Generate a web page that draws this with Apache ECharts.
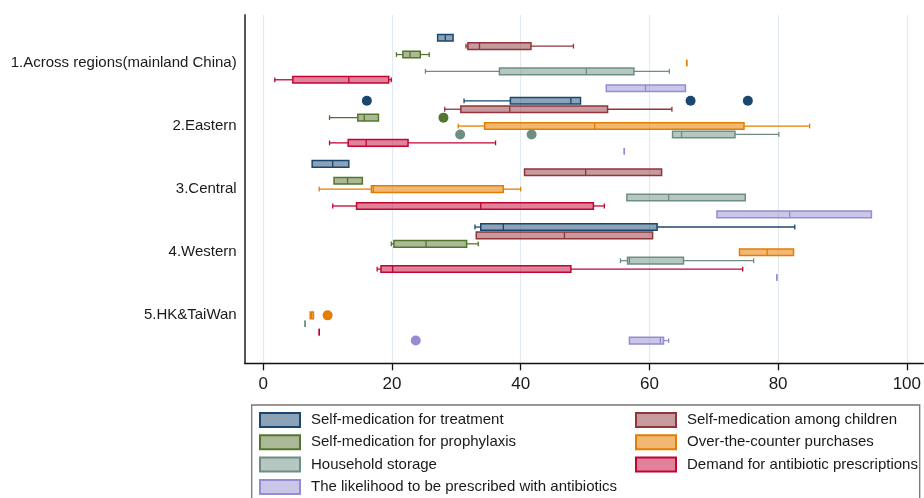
<!DOCTYPE html>
<html>
<head>
<meta charset="utf-8">
<script src="https://cdn.jsdelivr.net/npm/echarts@6/dist/echarts.min.js"></script>
<style>
html, body { margin: 0; padding: 0; background: #fff; }
#main { width: 924px; height: 498px; }
</style>
</head>
<body>
<div id="main"></div>
<script>
// categories (top to bottom)
const regions = ['1.Across regions(mainland China)', '2.Eastern', '3.Central', '4.Western', '5.HK&TaiWan'];
const seriesNames = [
    'Self-medication for treatment',
    'Self-medication among children',
    'Self-medication for prophylaxis',
    'Over-the-counter purchases',
    'Household storage',
    'Demand for antibiotic prescriptions',
    'The likelihood to be prescribed with antibiotics'
];
const xTicks = [0, 20, 40, 60, 80, 100];

// [min, q1, median, q3, max] for each region, null = no box
const treatment  = [[27.1, 27.1, 28.3, 29.5, 29.5], [31.2, 38.4, 47.8, 49.3, 49.3], [7.6, 7.6, 10.8, 13.3, 13.3], [32.9, 33.8, 37.3, 61.2, 82.6], null];
const children   = [[31.5, 31.8, 33.6, 41.6, 48.2], [28.2, 30.7, 38.3, 53.5, 63.5], [40.6, 40.6, 50.1, 61.9, 61.9], [33.1, 33.1, 46.8, 60.5, 60.5], null];
const prophylaxis = [[20.7, 21.7, 22.8, 24.4, 25.8], [10.3, 14.7, 15.7, 17.9, 17.9], [11.0, 11.0, 13.1, 15.4, 15.4], [19.9, 20.3, 25.3, 31.6, 33.4], null];
const otc        = [[65.8, 65.8, 65.8, 65.8, 65.8], [30.3, 34.4, 51.5, 74.7, 84.9], [8.7, 16.8, 17.1, 37.3, 40.0], [74.0, 74.0, 78.3, 82.4, 82.4], [7.3, 7.3, 7.5, 7.8, 7.8]];
const household  = [[25.2, 36.7, 50.2, 57.6, 63.1], [63.6, 63.6, 65.0, 73.3, 80.1], [56.5, 56.5, 63.0, 74.9, 74.9], [55.5, 56.6, 56.9, 65.3, 76.2], [6.5, 6.5, 6.5, 6.5, 6.5]];
const demand     = [[1.8, 4.6, 13.3, 19.5, 19.9], [10.3, 13.2, 16.0, 22.5, 36.1], [10.8, 14.5, 33.8, 51.3, 53.0], [17.7, 18.3, 20.1, 47.8, 74.5], [8.7, 8.7, 8.7, 8.7, 8.7]];
const likelihood = [[53.3, 53.3, 59.4, 65.6, 65.6], [56.1, 56.1, 56.1, 56.1, 56.1], [70.5, 70.5, 81.8, 94.5, 94.5], [79.8, 79.8, 79.8, 79.8, 79.8], [56.9, 56.9, 61.7, 62.2, 63.0]];

// outside values: [region index, value]
const treatmentOut   = [[1, 16.1], [1, 66.4], [1, 75.3]];
const prophylaxisOut = [[1, 28.0]];
const otcOut         = [[4, 10.0]];
const householdOut   = [[1, 30.6], [1, 41.7]];
const likelihoodOut  = [[4, 23.7]];

const boxData = [treatment, children, prophylaxis, otc, household, demand, likelihood];
const outData = [treatmentOut, [], prophylaxisOut, otcOut, householdOut, [], likelihoodOut];

// Stata s2color: navy, maroon, forest_green, dkorange, teal, cranberry, lavender
const lineColors = ['#1a476f', '#90353b', '#55752f', '#e37e00', '#6e8e84', '#c10534', '#938dd2'];
const fillColors = ['rgba(26,71,111,0.5)', 'rgba(144,53,59,0.5)', 'rgba(85,117,47,0.5)', 'rgba(227,126,0,0.55)',
                    'rgba(110,142,132,0.5)', 'rgba(193,5,52,0.5)', 'rgba(147,141,210,0.5)'];

const chart = echarts.init(document.getElementById('main'));

function slotY(api, r, k) {
    const band = api.size([0, 1])[1];
    return api.coord([0, r])[1] + (k - 3) * band * 0.8 / 6;
}

function boxSeries(k) {
    const data = [];
    boxData[k].forEach((b, r) => { if (b) data.push([r].concat(b)); });
    return {
        name: seriesNames[k],
        type: 'custom',
        data: data,
        encode: { x: [1, 2, 3, 4, 5], y: 0 },
        itemStyle: { color: fillColors[k], borderColor: lineColors[k], borderWidth: 2 },
        renderItem: function (params, api) {
            const r = api.value(0);
            const y = slotY(api, r, k);
            const px = v => api.coord([api.value(v), r])[0];
            const xMin = px(1), xQ1 = px(2), xMed = px(3), xQ3 = px(4), xMax = px(5);
            const h = 6.6, cap = 2.4;
            const line = { stroke: lineColors[k], lineWidth: 1.3 };
            const kids = [];
            if (xMin < xQ1 - 0.5) {
                kids.push({ type: 'line', shape: { x1: xMin, y1: y, x2: xQ1, y2: y }, style: line });
                kids.push({ type: 'line', shape: { x1: xMin, y1: y - cap, x2: xMin, y2: y + cap }, style: line });
            }
            if (xMax > xQ3 + 0.5) {
                kids.push({ type: 'line', shape: { x1: xQ3, y1: y, x2: xMax, y2: y }, style: line });
                kids.push({ type: 'line', shape: { x1: xMax, y1: y - cap, x2: xMax, y2: y + cap }, style: line });
            }
            kids.push({
                type: 'rect',
                shape: { x: xQ1, y: y - h / 2, width: xQ3 - xQ1, height: h },
                style: { fill: fillColors[k], stroke: lineColors[k], lineWidth: 1.5 }
            });
            kids.push({ type: 'line', shape: { x1: xMed, y1: y - h / 2, x2: xMed, y2: y + h / 2 },
                        style: { stroke: lineColors[k], lineWidth: 1.3 } });
            return { type: 'group', children: kids };
        },
        z: 3
    };
}

function outSeries(k) {
    return {
        name: seriesNames[k] + ' (outside)',
        type: 'custom',
        data: outData[k],
        encode: { x: 1, y: 0 },
        renderItem: function (params, api) {
            const r = api.value(0);
            const y = slotY(api, r, k);
            const x = api.coord([api.value(1), r])[0];
            return { type: 'circle', shape: { cx: x, cy: y, r: 5 }, style: { fill: lineColors[k] } };
        },
        z: 4
    };
}

const series = [];
for (let k = 0; k < 7; k++) series.push(boxSeries(k));
for (let k = 0; k < 7; k++) if (outData[k].length) series.push(outSeries(k));

function legendItems(idx) {
    return idx.map(k => ({
        name: seriesNames[k],
        itemStyle: { color: fillColors[k], borderColor: lineColors[k], borderWidth: 2 }
    }));
}

const legendBase = {
    orient: 'vertical',
    top: 412,
    height: 200,
    icon: 'rect',
    itemWidth: 40,
    itemHeight: 14,
    itemGap: 6.3,
    padding: 0,
    selectedMode: false,
    textStyle: { fontFamily: 'Liberation Sans', fontSize: 15, color: '#1a1a1a', lineHeight: 14, padding: [0, 0, 0, 6] }
};

chart.setOption({
    animation: false,
    textStyle: { fontFamily: 'Liberation Sans' },
    grid: { left: 244.7, top: 15, width: 680, height: 348.3, containLabel: false },
    xAxis: {
        type: 'value',
        min: -2.88,
        max: 102.55,
        axisLine: { show: true, onZero: false, lineStyle: { color: '#111', width: 1.3 } },
        axisTick: { show: true, length: 7, customValues: xTicks, lineStyle: { color: '#111', width: 1.3 } },
        axisLabel: { customValues: xTicks, fontSize: 17, color: '#1a1a1a', margin: 13, fontFamily: 'Liberation Sans' },
        splitLine: { show: true, lineStyle: { color: '#e1ebf1', width: 1.2 } }
    },
    yAxis: {
        type: 'value',
        inverse: true,
        min: -0.76,
        max: 4.76,
        axisLine: { show: true, onZero: false, lineStyle: { color: '#555', width: 2 } },
        axisTick: { show: false },
        splitLine: { show: false },
        axisLabel: {
            customValues: [0, 1, 2, 3, 4],
            formatter: v => regions[Math.round(v)],
            fontSize: 15,
            color: '#1a1a1a',
            margin: 8,
            fontFamily: 'Liberation Sans'
        }
    },
    legend: [
        Object.assign({}, legendBase, { left: 259, data: legendItems([0, 2, 4, 6]) }),
        Object.assign({}, legendBase, { left: 635, data: legendItems([1, 3, 5]) })
    ],
    graphic: [{
        type: 'rect',
        shape: { x: 251.7, y: 405, width: 668, height: 100 },
        style: { fill: 'none', stroke: '#777', lineWidth: 1.3 },
        silent: true
    }],
    series: series
});
</script>
</body>
</html>
